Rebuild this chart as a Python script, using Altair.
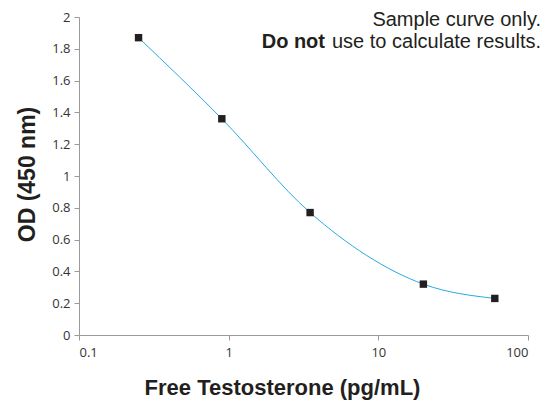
import altair as alt
import pandas as pd

conc = [0.25, 0.9, 3.5, 20, 60]
od = [1.87, 1.36, 0.77, 0.32, 0.23]
x_ticks = [0.1, 1, 10, 100]
y_ticks = [0, 0.2, 0.4, 0.6, 0.8, 1, 1.2, 1.4, 1.6, 1.8, 2]

df = pd.DataFrame({"conc": conc, "od": od})

xenc = alt.X("conc:Q", scale=alt.Scale(type="log", domain=[0.1, 100]),
             axis=alt.Axis(values=x_ticks, format="~g", title="Free Testosterone (pg/mL)",
                           titleFontSize=22, titleFont="Liberation Sans", titleFontWeight="bold",
                           titleColor="#231f20", titleX=203, titleY=59,
                           titleAlign="center", titleBaseline="alphabetic",
                           labelFont="Open Sans", labelFontSize=13, labelColor="#333333",
                           labelPadding=6,
                           domainColor="#9a9a9a", tickColor="#9a9a9a", tickSize=5, grid=False))
yenc = alt.Y("od:Q", scale=alt.Scale(domain=[0, 2]),
             axis=alt.Axis(values=y_ticks, format="~g", title="OD (450 nm)",
                           titleFontSize=23, titleFont="Liberation Sans", titleFontWeight="bold",
                           titleColor="#231f20", titleX=-52, titleY=157,
                           titleAlign="center", titleBaseline="middle",
                           labelFont="Open Sans", labelFontSize=13, labelColor="#333333",
                           labelPadding=4,
                           domainColor="#9a9a9a", tickColor="#9a9a9a", tickSize=5, grid=False))

line = alt.Chart(df).mark_line(interpolate="monotone", color="#29abe2", strokeWidth=1).encode(x=xenc, y=yenc)
pts = alt.Chart(df).mark_point(shape="square", filled=True, color="#231f20", size=55, opacity=1).encode(x=xenc, y=yenc)

t1 = alt.Chart(pd.DataFrame({"t": ["Sample curve only."]})).mark_text(
    align="right", baseline="alphabetic", font="Liberation Sans", fontSize=20, color="#231f20"
).encode(text="t:N", x=alt.value(462), y=alt.value(9))
t2 = alt.Chart(pd.DataFrame({"t": ["use to calculate results."]})).mark_text(
    align="right", baseline="alphabetic", font="Liberation Sans", fontSize=20, color="#231f20"
).encode(text="t:N", x=alt.value(462), y=alt.value(31))
t3 = alt.Chart(pd.DataFrame({"t": ["Do not"]})).mark_text(
    align="right", baseline="alphabetic", font="Liberation Sans", fontSize=20, fontWeight="bold", color="#231f20"
).encode(text="t:N", x=alt.value(246), y=alt.value(31))

chart = alt.layer(line, pts, t1, t2, t3).properties(
    width=449, height=318,
    autosize=alt.AutoSizeParams(type="none"),
    padding={"left": 71, "top": 9, "right": 13, "bottom": 66},
).configure_view(stroke=None)

chart.save("out.html", embed_options={"renderer": "svg", "actions": False})
